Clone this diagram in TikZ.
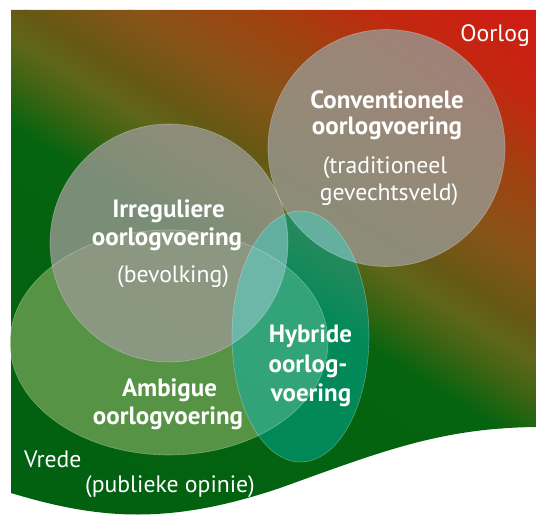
\documentclass[tikz,border=0pt]{standalone}
\usepackage{fontspec}
\setmainfont{PT Sans}
\definecolor{g0}{RGB}{0,96,16}
\definecolor{g1}{RGB}{6,100,16}
\definecolor{g2}{RGB}{60,100,18}
\definecolor{g3}{RGB}{96,102,26}
\definecolor{g4}{RGB}{102,88,20}
\definecolor{g5}{RGB}{136,84,24}
\definecolor{g6}{RGB}{162,64,16}
\definecolor{g7}{RGB}{194,40,16}
\definecolor{g8}{RGB}{212,24,22}
\definecolor{circfill}{RGB}{152,152,145}
\definecolor{ambfill}{RGB}{122,168,92}
\definecolor{hybfill}{RGB}{0,168,150}
\begin{document}
\begin{tikzpicture}[x=1pt,y=-1pt,
  boldtxt/.style={font=\bfseries\fontsize{25}{27}\selectfont, text=white, inner sep=0pt, anchor=base},
  regtxt/.style={font=\fontsize{23.7}{27}\selectfont, text=white, inner sep=0pt, anchor=base},
  rim/.style={draw=white, draw opacity=0.3, line width=0.6pt}]
\useasboundingbox (0,0) rectangle (536,516);
% background with diagonal gradient
\begin{scope}
  \clip (11,10) -- (536,10) -- (536,427)
     .. controls (440,428) and (380,452) .. (280,488)
     .. controls (170,525) and (100,520) .. (11,493) -- cycle;
  \begin{scope}[transform canvas={rotate=58.2}]
    \foreach \a/\b/\ca/\cb in {-460/-100/g0/g1, -100/-60/g1/g2, -60/-25/g2/g3,
        -25/5/g3/g4, 5/60/g4/g5, 60/130/g5/g6, 130/190/g6/g7, 190/300/g7/g8}
      {\shade[left color=\ca, right color=\cb] (\a-0.5,-900) rectangle (\b+0.5,900);}
  \end{scope}
\end{scope}
% shapes
\coordinate (amb) at (169,342.5);
\coordinate (irr) at (169,243);
\coordinate (con) at (386.5,148);
\coordinate (hyb) at (300.5,336.5);
\fill[ambfill, fill opacity=0.7] (amb) ellipse [x radius=159, y radius=112.5];
\fill[circfill, fill opacity=0.8] (irr) circle [radius=119];
\fill[circfill, fill opacity=0.8] (con) circle [radius=118.5];
\fill[hybfill, fill opacity=0.55] (hyb) ellipse [x radius=68.5, y radius=125.5];
\begin{scope}
  \clip (hyb) ellipse [x radius=68.5, y radius=125.5];
  \fill[white, fill opacity=0.2] (irr) circle [radius=119];
  \fill[white, fill opacity=0.2] (con) circle [radius=118.5];
  \fill[white, fill opacity=0.06] (amb) ellipse [x radius=159, y radius=112.5];
\end{scope}
\path[rim] (amb) ellipse [x radius=159, y radius=112.5];
\path[rim] (irr) circle [radius=119];
\path[rim] (con) circle [radius=118.5];
\path[rim] (hyb) ellipse [x radius=68.5, y radius=125.5];
% texts
\node[regtxt, anchor=base east] (oorlog) at (530,41.7) {Oorlog};
\node[boldtxt] (c1) at (387,108.3) {Conventionele};
\node[boldtxt] (c2) at (387,135) {oorlogvoering};
\node[regtxt] (c3) at (385,173.3) {(traditioneel};
\node[regtxt] (c4) at (389,200.7) {gevechtsveld)};
\node[boldtxt] (i1) at (168.5,217.7) {Irreguliere};
\node[boldtxt] (i2) at (167,246) {oorlogvoering};
\node[regtxt] (i3) at (173,282.3) {(bevolking)};
\node[boldtxt] (h1) at (310.5,342.7) {Hybride};
\node[boldtxt] (h2) at (308,372.3) {oorlog-};
\node[boldtxt] (h3) at (311,401) {voering};
\node[boldtxt] (a1) at (169.5,396) {Ambigue};
\node[boldtxt] (a2) at (168,424.3) {oorlogvoering};
\node[regtxt, anchor=base west] (vrede) at (24,467.3) {Vrede};
\node[regtxt, anchor=base west] (opinie) at (85,492.7) {(publieke opinie)};
\end{tikzpicture}
\end{document}
